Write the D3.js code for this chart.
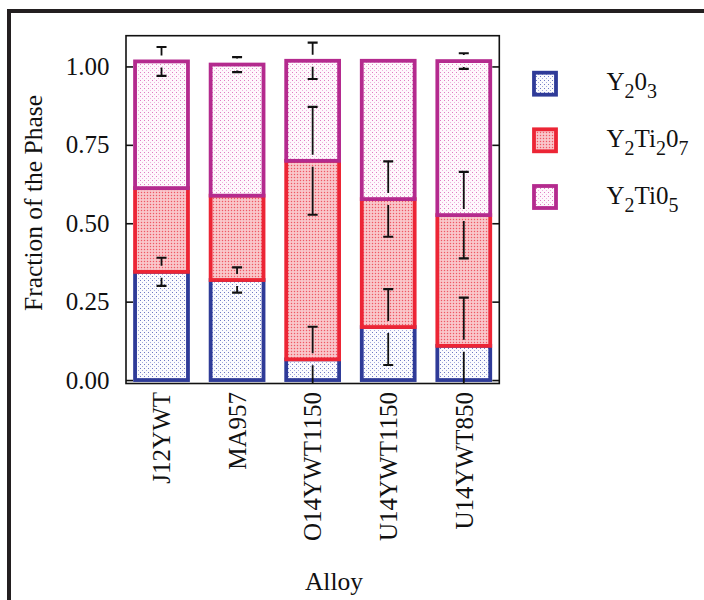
<!DOCTYPE html>
<html>
<head>
<meta charset="utf-8">
<script src="https://cdn.jsdelivr.net/npm/d3@7"></script>
<style>
  body { margin: 0; background: #fff; }
  svg { display: block; }
  text { font-family: "Liberation Serif", "Times New Roman", serif; fill: #111; }
</style>
</head>
<body>
<svg id="chart" width="704" height="600"></svg>
<script>
// Phase fractions per alloy (stacked bottom to top)
const alloys = ["J12YWT", "MA957", "O14YWT1150", "U14YWT1150", "U14YWT850"];
const phaseKeys = ["y2o3", "y2ti2o7", "y2tio5"];
const y2o3 = [0.345, 0.319, 0.066, 0.169, 0.109];
const y2ti2o7 = [0.267, 0.269, 0.633, 0.408, 0.417];
const y2tio5 = [0.404, 0.418, 0.319, 0.441, 0.491];
// Uncertainty (+/-) shown at the top of each segment; 0 = no bar drawn
const y2o3Err = [0.045, 0.040, 0.104, 0.121, 0.154];
const y2ti2o7Err = [0, 0, 0.172, 0.120, 0.138];
const y2tio5Err = [0.046, 0.024, 0.058, 0, 0.025];
const yTicks = [0, 0.25, 0.5, 0.75, 1.0];
// Legend labels: [text, isSubscript]
const legendLabels = [
  [["Y", 0], ["2", 1], ["0", 0], ["3", 1]],
  [["Y", 0], ["2", 1], ["Ti", 0], ["2", 1], ["0", 0], ["7", 1]],
  [["Y", 0], ["2", 1], ["Ti0", 0], ["5", 1]]
];

const strokeColors = { y2o3: "#2f3b98", y2ti2o7: "#ec2535", y2tio5: "#b42a8e" };

const rows = alloys.map((a, i) => ({
  alloy: a,
  y2o3: y2o3[i], y2ti2o7: y2ti2o7[i], y2tio5: y2tio5[i],
  err: { y2o3: y2o3Err[i], y2ti2o7: y2ti2o7Err[i], y2tio5: y2tio5Err[i] }
}));

const svg = d3.select("#chart");
const defs = svg.append("defs");

// Dotted fill patterns
const pBlue = defs.append("pattern").attr("id", "pat-y2o3")
  .attr("width", 4).attr("height", 4).attr("patternUnits", "userSpaceOnUse");
pBlue.append("rect").attr("width", 4).attr("height", 4).attr("fill", "#fbfbfe");
pBlue.append("rect").attr("x", 0).attr("y", 0).attr("width", 1).attr("height", 1).attr("fill", "#6f78c4");
pBlue.append("rect").attr("x", 2).attr("y", 2).attr("width", 1).attr("height", 1).attr("fill", "#a4aadc");

const pRed = defs.append("pattern").attr("id", "pat-y2ti2o7")
  .attr("width", 3).attr("height", 3).attr("patternUnits", "userSpaceOnUse");
pRed.append("rect").attr("width", 3).attr("height", 3).attr("fill", "#f8b7bc");
pRed.append("rect").attr("x", 0).attr("y", 0).attr("width", 1).attr("height", 1).attr("fill", "#ee5864");
pRed.append("rect").attr("x", 1.5).attr("y", 1.5).attr("width", 1).attr("height", 1).attr("fill", "#fff6f7");

const pMag = defs.append("pattern").attr("id", "pat-y2tio5")
  .attr("width", 4).attr("height", 4).attr("patternUnits", "userSpaceOnUse");
pMag.append("rect").attr("width", 4).attr("height", 4).attr("fill", "#fef8fc");
pMag.append("rect").attr("x", 0).attr("y", 0).attr("width", 1).attr("height", 1).attr("fill", "#e07cc3");
pMag.append("rect").attr("x", 2).attr("y", 2).attr("width", 1).attr("height", 1).attr("fill", "#eeb3dd");

const plot = { left: 126, right: 499.3, top: 35.7, bottom: 383.5 };

defs.append("clipPath").attr("id", "plot-clip")
  .append("rect")
  .attr("x", plot.left).attr("y", plot.top)
  .attr("width", plot.right - plot.left).attr("height", plot.bottom - plot.top);

const x = d3.scaleBand().domain(alloys)
  .range([plot.left, plot.right]).paddingInner(0.3).paddingOuter(0.12);
const y = d3.scaleLinear().domain([-0.011, 1.098]).range([plot.bottom, plot.top]);

const stacked = d3.stack().keys(phaseKeys)(rows);

// Outer figure border
svg.append("path")
  .attr("d", "M710,11 H9 V610")
  .attr("fill", "none").attr("stroke", "#231f20").attr("stroke-width", 4);

// Stacked bars
const layers = svg.append("g").selectAll("g").data(stacked).join("g");
layers.selectAll("rect")
  .data(s => s.map(d => ({ key: s.key, d })))
  .join("rect")
  .attr("x", o => x(o.d.data.alloy))
  .attr("width", x.bandwidth())
  .attr("y", o => y(o.d[1]))
  .attr("height", o => y(o.d[0]) - y(o.d[1]))
  .attr("fill", o => `url(#pat-${o.key})`)
  .attr("stroke", o => strokeColors[o.key])
  .attr("stroke-width", 3.8);

// Error bars at each segment top; the stem breaks around the segment edge
const errData = [];
stacked.forEach(s => s.forEach(d => {
  const e = d.data.err[s.key];
  if (e > 0) errData.push({ alloy: d.data.alloy, c: d[1], e });
}));
const eg = svg.append("g").attr("clip-path", "url(#plot-clip)")
  .attr("stroke", "#111").attr("fill", "none");
const cap = 5;
const gap = 6;
errData.forEach(o => {
  const cx = x(o.alloy) + x.bandwidth() / 2;
  const yc = y(o.c);
  const y1 = y(o.c + o.e), y0 = y(o.c - o.e);
  eg.append("line").attr("x1", cx).attr("x2", cx).attr("y1", y1).attr("y2", yc - gap).attr("stroke-width", 1.8);
  eg.append("line").attr("x1", cx).attr("x2", cx).attr("y1", yc + gap).attr("y2", y0).attr("stroke-width", 1.8);
  eg.append("line").attr("x1", cx - cap).attr("x2", cx + cap).attr("y1", y1).attr("y2", y1).attr("stroke-width", 2.2);
  eg.append("line").attr("x1", cx - cap).attr("x2", cx + cap).attr("y1", y0).attr("y2", y0).attr("stroke-width", 2.2);
});

// Plot frame
svg.append("rect")
  .attr("x", plot.left).attr("y", plot.top)
  .attr("width", plot.right - plot.left).attr("height", plot.bottom - plot.top)
  .attr("fill", "none").attr("stroke", "#111").attr("stroke-width", 1.6);

// Y axis (ticks pointing inward)
const yAxis = svg.append("g").attr("transform", `translate(${plot.left},0)`)
  .call(d3.axisLeft(y).tickValues(yTicks).tickFormat(d3.format(".2f"))
    .tickSize(-7).tickPadding(16.5));
yAxis.select(".domain").remove();
yAxis.selectAll(".tick line").attr("stroke", "#111").attr("stroke-width", 1.6);
yAxis.selectAll(".tick text")
  .style("font-family", '"Liberation Serif", serif').style("font-size", "25px").attr("fill", "#111");

const yAxisR = svg.append("g").attr("transform", `translate(${plot.right},0)`)
  .call(d3.axisRight(y).tickValues(yTicks).tickFormat("").tickSize(-7));
yAxisR.select(".domain").remove();
yAxisR.selectAll(".tick line").attr("stroke", "#111").attr("stroke-width", 1.6);

// X category labels (rotated)
svg.append("g").selectAll("text").data(alloys).join("text")
  .attr("transform", d => `translate(${x(d) + x.bandwidth() / 2},392) rotate(-90)`)
  .attr("text-anchor", "end")
  .attr("dy", "0.35em")
  .style("font-size", "25px")
  .text(d => d);

// Axis titles
svg.append("text")
  .attr("transform", "translate(41.5,203) rotate(-90)")
  .attr("text-anchor", "middle")
  .style("font-size", "25.5px")
  .text("Fraction of the Phase");

svg.append("text")
  .attr("x", 334).attr("y", 590)
  .attr("text-anchor", "middle")
  .style("font-size", "25.5px")
  .text("Alloy");

// Legend
const legend = svg.append("g");
const legendY = [83.7, 140.3, 197];
const subDrop = 8;
phaseKeys.forEach((k, i) => {
  legend.append("rect")
    .attr("x", 534).attr("y", legendY[i] - 11)
    .attr("width", 22).attr("height", 22)
    .attr("fill", `url(#pat-${k})`)
    .attr("stroke", strokeColors[k]).attr("stroke-width", 3.8);
  const t = legend.append("text")
    .attr("x", 606.5).attr("y", legendY[i] + 6.5)
    .style("font-size", "25px");
  let offset = 0;
  legendLabels[i].forEach(([s, sub]) => {
    const target = sub ? subDrop : 0;
    t.append("tspan")
      .attr("dy", target - offset)
      .style("font-size", sub ? "20px" : "25px")
      .text(s);
    offset = target;
  });
});
</script>
</body>
</html>
